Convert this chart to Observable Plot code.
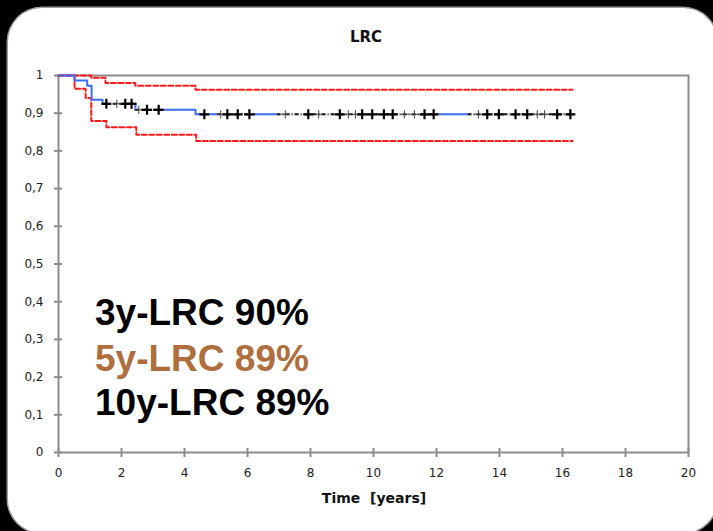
<!DOCTYPE html>
<html><head><meta charset="utf-8">
<script src="https://cdn.jsdelivr.net/npm/d3@7"></script>
<script src="https://cdn.jsdelivr.net/npm/@observablehq/plot@0.6"></script>
<style>
html,body{margin:0;padding:0;background:#000;width:713px;height:531px;overflow:hidden;position:relative;}
#card{position:absolute;left:8px;top:8px;width:709px;height:525px;background:#fff;border-radius:34px;box-shadow:0 0 0 1.5px #9a9a9a;}
#chart{position:absolute;left:0;top:55px;}
.t{position:absolute;font-family:"DejaVu Sans",sans-serif;font-weight:bold;color:#111;white-space:pre;text-align:center;line-height:1;}
#notes{position:absolute;left:0;top:0;pointer-events:none;}
</style></head><body>
<div id="card"></div>
<div class="t" style="left:266px;top:30px;width:200px;font-size:15px;">LRC</div>
<div id="chart"></div>
<div class="t" style="left:274px;top:491px;width:200px;font-size:14px;">Time  [years]</div>
<svg id="notes" width="713" height="531"></svg>
<script>
// Kaplan-Meier estimate (years, survival)
const kmTime = [0, 0.51, 0.91, 1.05, 1.40, 2.44, 4.35, 16.32];
const kmSurv = [1, 0.987, 0.973, 0.936, 0.925, 0.909, 0.897, 0.897];
// 95% confidence bounds
const upperTime = [0, 1.04, 1.49, 2.44, 4.35, 16.32];
const upperSurv = [1, 0.994, 0.980, 0.973, 0.962, 0.962];
const lowerTime = [0, 0.51, 0.86, 1.04, 1.52, 2.47, 4.37, 16.32];
const lowerSurv = [1, 0.965, 0.940, 0.879, 0.863, 0.843, 0.826, 0.826];
// censored observations (years)
const censorBold = [1.52, 2.12, 2.32, 2.81, 3.18, 4.63, 5.36, 5.69, 6.06, 7.93, 8.93, 9.64, 9.96, 10.33, 10.61, 11.62, 11.91, 13.61, 13.98, 14.51, 14.88, 15.83, 16.25];
const censorThin = [1.85, 2.55, 5.15, 7.2, 8.26, 9.2, 9.43, 10.98, 11.3, 13.33, 15.2, 15.43];
// stretches of the curve drawn as dense censor dashes
const dashStart = [1.45, 2.44, 5.05, 6.94, 13.0];
const dashEnd   = [2.44, 3.20, 6.25, 12.1, 16.32];
// axes
const xTicks = [0, 2, 4, 6, 8, 10, 12, 14, 16, 18, 20];
const xTickLabels = ["0","2","4","6","8","10","12","14","16","18","20"];
const yTicks = [0, 0.1, 0.2, 0.3, 0.4, 0.5, 0.6, 0.7, 0.8, 0.9, 1];
const yTickLabels = ["0","0,1","0,2","0,3","0,4","0,5","0,6","0,7","0,8","0,9","1"];
// annotations
const notes = ["3y-LRC 90%", "5y-LRC 89%", "10y-LRC 89%"];
const noteColors = ["#000000", "#AE6E3E", "#000000"];

const km = kmTime.map((t, i) => ({t, s: kmSurv[i]}));
const upper = upperTime.map((t, i) => ({t, s: upperSurv[i]}));
const lower = lowerTime.map((t, i) => ({t, s: lowerSurv[i]}));
const survAt = t => kmSurv[Math.max(0, d3.bisectRight(kmTime, t) - 1)];
const bold = censorBold.map(t => ({t, s: survAt(t)}));
const thin = censorThin.map(t => ({t, s: survAt(t)}));
const spans = dashStart.map((a, i) => ({a, b: dashEnd[i], s: survAt(a + 1e-6)}));

const axisGray = "#8c8c8c";
const chart = Plot.plot({
  width: 713, height: 460,
  marginLeft: 58, marginRight: 25, marginTop: 20, marginBottom: 63,
  x: {domain: [0, 20]},
  y: {domain: [0, 1]},
  style: {background: "transparent", color: "#222", fontFamily: "'DejaVu Sans', sans-serif", fontSize: "12px", overflow: "visible"},
  marks: [
    Plot.frame({stroke: axisGray, strokeWidth: 2}),
    Plot.axisY({ticks: yTicks, tickSize: 8, dx: 4, tickFormat: () => "", stroke: axisGray, strokeWidth: 2, label: null}),
    Plot.axisY({ticks: yTicks, tickSize: 0, tickPadding: 15, tickFormat: d => yTickLabels[yTicks.indexOf(d)], label: null}),
    Plot.axisX({ticks: xTicks, tickSize: 9, dy: -4, tickFormat: () => "", stroke: axisGray, strokeWidth: 2, label: null}),
    Plot.axisX({ticks: xTicks, tickSize: 0, tickPadding: 15.5, tickFormat: d => xTickLabels[xTicks.indexOf(d)], label: null}),
    Plot.line(upper, {x: "t", y: "s", curve: "step-after", stroke: "#ff1a1a", strokeWidth: 2, strokeDasharray: "5,2.5"}),
    Plot.line(lower, {x: "t", y: "s", curve: "step-after", stroke: "#ff1a1a", strokeWidth: 2, strokeDasharray: "5,2.5"}),
    Plot.line(km, {x: "t", y: "s", curve: "step-after", stroke: "#3b6ef5", strokeWidth: 2}),
    Plot.ruleY(spans, {y: "s", x1: "a", x2: "b", stroke: "white", strokeWidth: 3}),
    Plot.ruleY(spans, {y: "s", x1: "a", x2: "b", stroke: "#111", strokeWidth: 2, strokeDasharray: "4,2,1,2"}),
    Plot.dot(thin, {x: "t", y: "s", symbol: "plus", r: 2.8, stroke: "#444", strokeWidth: 1}),
    Plot.dot(bold, {x: "t", y: "s", symbol: "plus", r: 3.3, stroke: "#000", strokeWidth: 2.2})
  ]
});
document.getElementById("chart").appendChild(chart);

const svg = d3.select("#notes");
const baselines = [325, 370.5, 415];
svg.selectAll("text").data(notes).join("text")
  .attr("x", 95).attr("y", (d, i) => baselines[i])
  .attr("fill", (d, i) => noteColors[i])
  .attr("font-family", "'Liberation Sans', Arial, sans-serif")
  .attr("font-weight", "bold").attr("font-size", 37)
  .text(d => d);
</script>
</body></html>
